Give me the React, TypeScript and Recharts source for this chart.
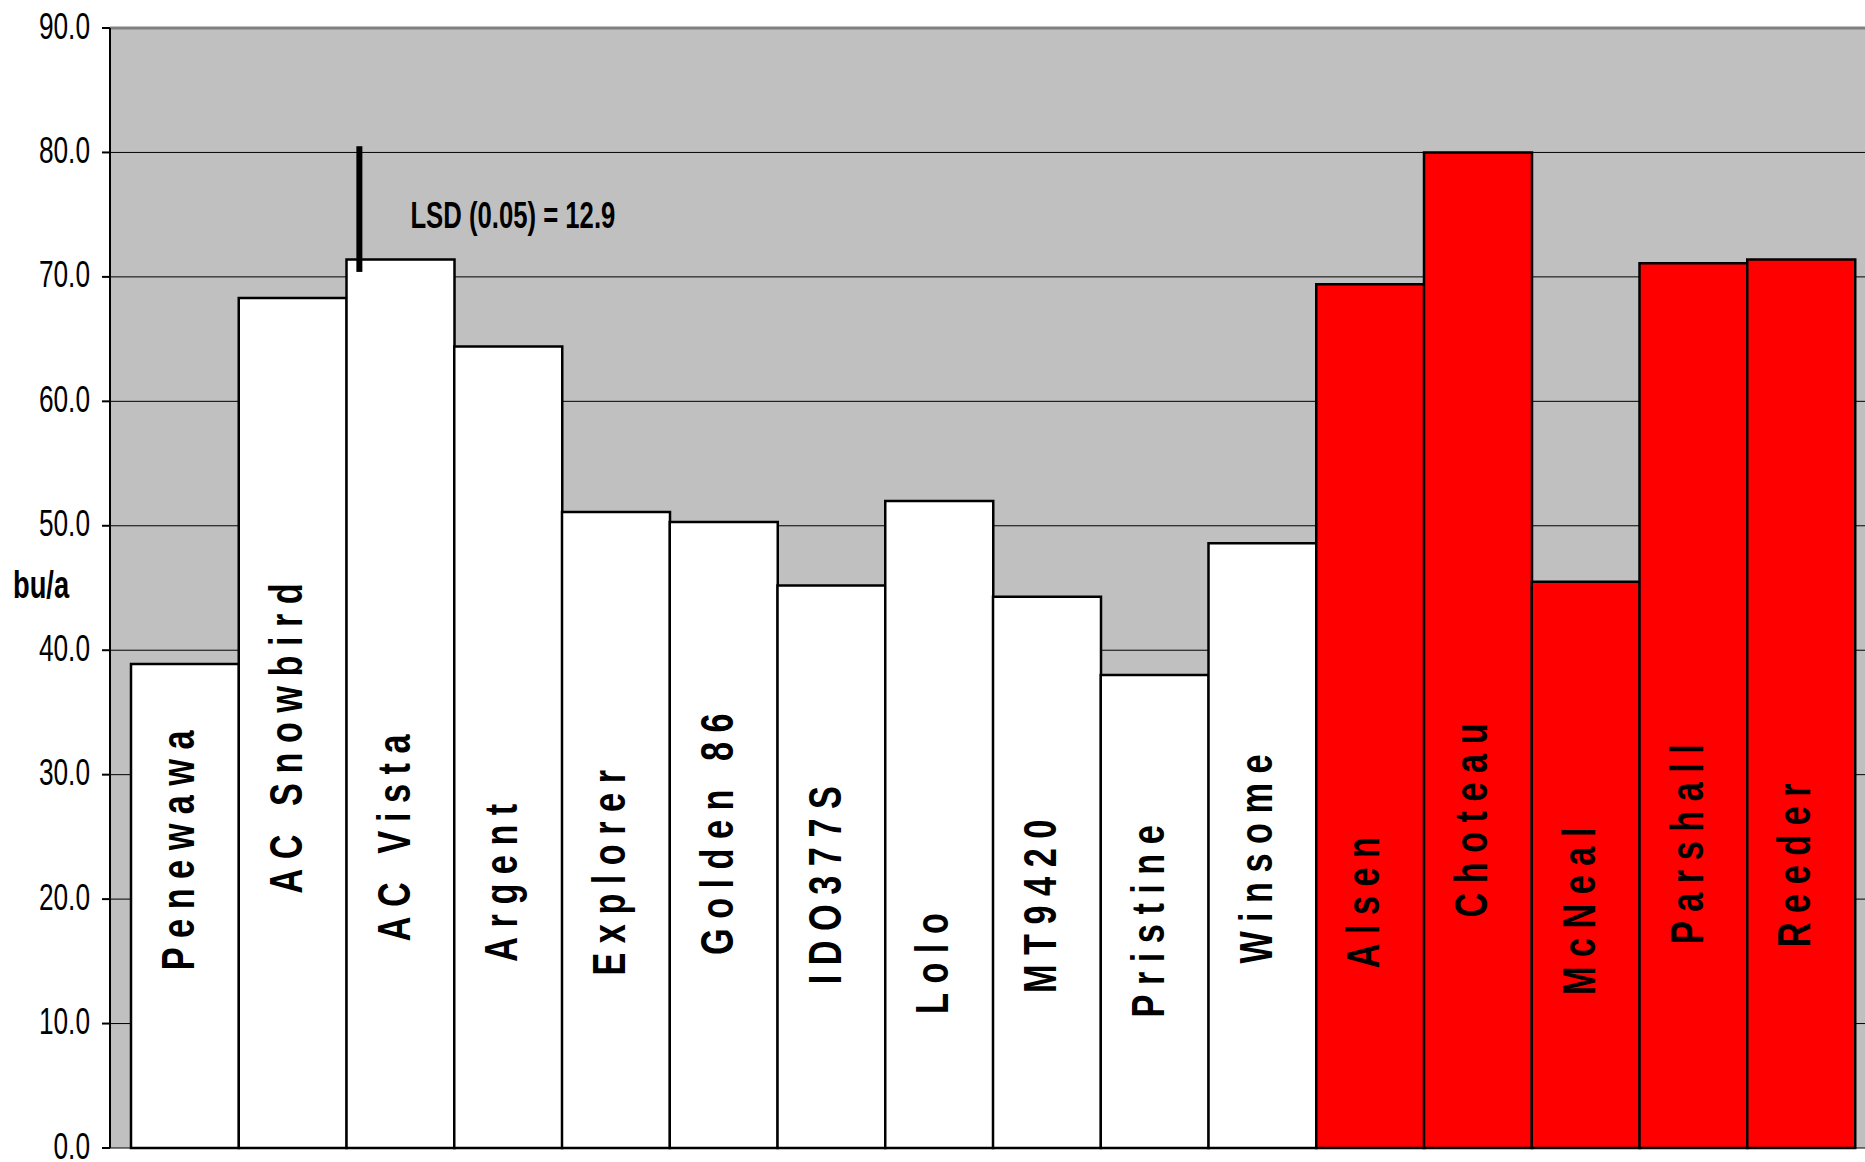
import {
  BarChart,
  Bar,
  Cell,
  XAxis,
  YAxis,
  CartesianGrid,
  ReferenceLine,
  LabelList,
} from "recharts";

// variety groups
const whiteVarieties = [
  "Penewawa",
  "AC Snowbird",
  "AC Vista",
  "Argent",
  "Explorer",
  "Golden 86",
  "IDO377S",
  "Lolo",
  "MT9420",
  "Pristine",
  "Winsome",
];
const redVarieties = ["Alsen", "Choteau", "McNeal", "Parshall", "Reeder"];
const varieties = [...whiteVarieties, ...redVarieties];

// yield, bu/a
const yields = [
  38.9, 68.3, 71.4, 64.4, 51.1, 50.3, 45.2, 52.0, 44.3, 38.0, 48.6, 69.4, 80.0,
  45.5, 71.1, 71.4,
];

// where the middle of each name sits, in bu/a (layout only)
const labelMid = [
  24.3, 33.3, 25.3, 21.7, 22.5, 25.6, 21.5, 15.2, 19.8, 18.6, 23.6, 20.1, 26.7,
  19.4, 24.8, 23.1,
];

const yTicks = [0, 10, 20, 30, 40, 50, 60, 70, 80, 90];
const minorTicks = [
  2, 4, 6, 8, 12, 14, 16, 18, 22, 24, 26, 28, 32, 34, 36, 38, 42, 44, 46, 48,
  52, 54, 56, 58, 62, 64, 66, 68, 72, 74, 76, 78, 82, 84, 86, 88,
];

const lsd = 12.9;
const lsdBottom = 70.4;
const lsdTop = 80.5;

const data = varieties.map((name, i) => ({ name, yield: yields[i] }));

const FONT = "'Liberation Sans', Arial, sans-serif";

const YTick = (props: any) => {
  const { x, y, payload } = props;
  return (
    <text
      transform={`translate(${x},${Number(y) + 10.5}) scale(0.71,1)`}
      textAnchor="end"
      fontFamily={FONT}
      fontSize={37}
      fill="#000"
    >
      {Number(payload.value).toFixed(1)}
    </text>
  );
};

const UnitLabel = (props: any) => {
  const vb = props.viewBox || { x: 0, y: 28, width: 110, height: 1120 };
  return (
    <text
      transform={`translate(13,${vb.y + vb.height / 2 + 10}) scale(0.7,1)`}
      fontFamily={FONT}
      fontWeight="bold"
      fontSize={39}
      fill="#000"
    >
      bu/a
    </text>
  );
};

const BarName = (props: any) => {
  const vb = props.viewBox || props;
  const x = Number(vb.x ?? props.x);
  const y = Number(vb.y ?? props.y);
  const width = Number(vb.width ?? props.width);
  const height = Number(vb.height ?? props.height);
  const i = props.index;
  const perUnit = height / yields[i];
  const cx = x + width / 2 + 9;
  const cy = y + height - labelMid[i] * perUnit;
  return (
    <text
      transform={`translate(${cx},${cy}) rotate(-90) scale(0.73,1)`}
      textAnchor="middle"
      fontFamily={FONT}
      fontWeight="bold"
      fontSize={47}
      letterSpacing={13}
      fill="#000"
    >
      {varieties[i]}
    </text>
  );
};

const LsdMark = (props: any) => {
  const { x1, y1, y2 } = props;
  const lx = Number(x1) - 41;
  const bottom = Math.max(Number(y1), Number(y2));
  return (
    <g>
      <line x1={lx} x2={lx} y1={y1} y2={y2} stroke="#000" strokeWidth={6} />
      <text
        transform={`translate(${lx + 51},${bottom - 44}) scale(0.714,1)`}
        fontFamily={FONT}
        fontWeight="bold"
        fontSize={36}
        fill="#000"
      >
        {`LSD (0.05) = ${lsd}`}
      </text>
    </g>
  );
};

export default function App() {
  return (
    <div
      style={{
        position: "absolute",
        left: 0,
        top: 0,
        width: 1865,
        height: 1162,
        overflow: "hidden",
        background: "#fff",
      }}
    >
      <BarChart
        width={1890}
        height={1162}
        data={data}
        margin={{ top: 28, right: 14, bottom: 14, left: 0 }}
        barCategoryGap={0}
        barGap={0}
      >
        <CartesianGrid
          vertical={false}
          stroke="#000"
          strokeWidth={1}
          fill="#c0c0c0"
          fillOpacity={1}
        />
        <XAxis dataKey="name" hide padding={{ left: 21, right: 21 }} />
        <YAxis
          domain={[0, 90]}
          ticks={yTicks}
          interval={0}
          width={110}
          tickSize={8}
          tickMargin={12}
          stroke="#000"
          strokeWidth={2}
          tick={<YTick />}
          label={<UnitLabel />}
        />
        <YAxis
          yAxisId="minor"
          domain={[0, 90]}
          ticks={minorTicks}
          interval={0}
          width={0}
          mirror
          tickSize={5}
          axisLine={false}
          tick={false}
          stroke="#000"
        />
        <ReferenceLine y={90} stroke="#808080" strokeWidth={3} />
        <Bar
          dataKey="yield"
          stroke="#000"
          strokeWidth={2.5}
          isAnimationActive={false}
        >
          {data.map((d) => (
            <Cell
              key={d.name}
              fill={redVarieties.includes(d.name) ? "#ff0000" : "#ffffff"}
            />
          ))}
          <LabelList dataKey="name" content={<BarName />} />
        </Bar>
        <ReferenceLine
          segment={[
            { x: "AC Vista", y: lsdBottom },
            { x: "AC Vista", y: lsdTop },
          ]}
          shape={<LsdMark />}
        />
      </BarChart>
    </div>
  );
}
